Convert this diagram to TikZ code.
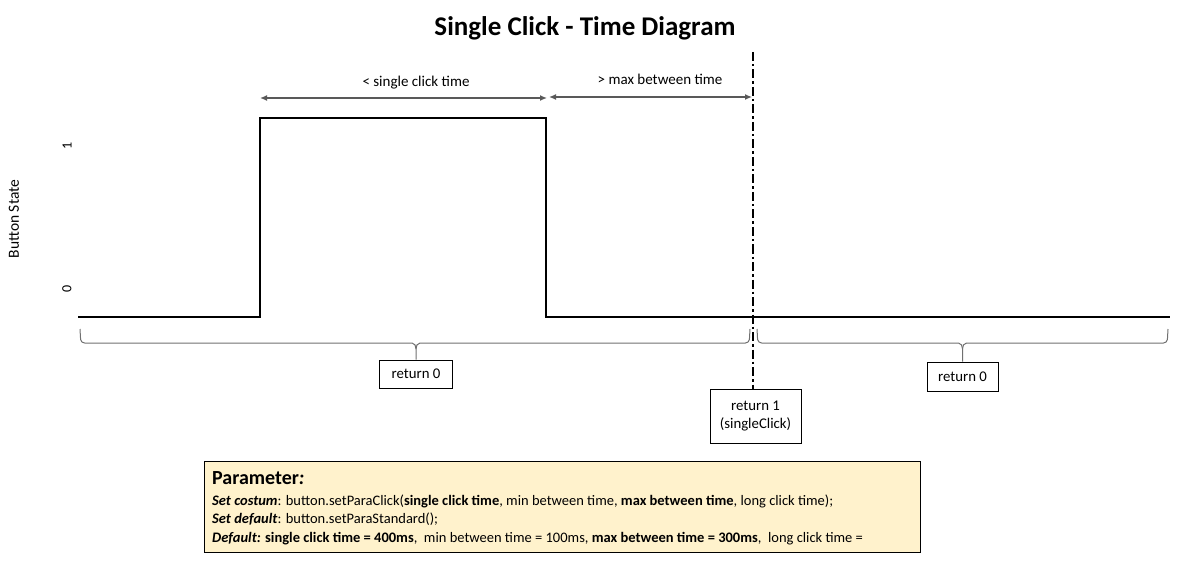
\documentclass[tikz,border=0pt]{standalone}
\usepackage{fontspec}
\setmainfont{Carlito}
\usetikzlibrary{arrows.meta}
\definecolor{paramfill}{HTML}{FFF2CC}
\definecolor{bracegray}{HTML}{707070}
\definecolor{arrowgray}{HTML}{595959}
\tikzset{
  signal/.style={line width=2pt},
  box/.style={draw, line width=0.8pt, fill=white, align=center, font=\fontsize{14.8}{18}\selectfont, inner sep=0pt},
  spanarrow/.style={arrowgray, line width=1.3pt, {Latex[length=7pt,width=6pt]}-{Latex[length=7pt,width=6pt]}},
  bracestyle/.style={bracegray, line width=1pt},
  label/.style={font=\fontsize{15}{18}\selectfont},
  dashdot/.style={line width=2.2pt, dash pattern=on 9pt off 3pt on 2.5pt off 3pt},
  ptext/.style={anchor=base west, font=\fontsize{14.5}{17}\selectfont, inner sep=0pt}
}
\begin{document}
\begin{tikzpicture}[x=1pt,y=-1pt]
\useasboundingbox (0,0) rectangle (1182,561);
% title
\node[font=\bfseries\fontsize{27}{32}\selectfont] (title) at (585,28.5) {Single Click - Time Diagram};
% axis labels
\node[rotate=90, font=\fontsize{15.5}{18}\selectfont] (ylab) at (14,219) {Button State};
\node[rotate=90, font=\fontsize{14}{17}\selectfont] (one) at (67,146) {1};
\node[rotate=90, font=\fontsize{14}{17}\selectfont] (zero) at (67,289) {0};
% signal
\draw[signal] (78,317) -- (260,317) -- (260,118) -- (546,118) -- (546,317) -- (1170,317);
% span arrows
\coordinate (a1) at (260,98);
\coordinate (a2) at (547,98);
\coordinate (a3) at (549,97);
\coordinate (a4) at (752,97);
\draw[spanarrow] (a1) -- (a2);
\draw[spanarrow] (a3) -- (a4);
\node[label] (l1) at (416,83) {< single click time};
\node[label] (l2) at (660,79) {> max between time};
% boxes
\node[box, minimum width=73pt, minimum height=28pt] (r0a) at (416,374) {return 0};
\node[box, minimum width=71pt, minimum height=29pt] (r0b) at (962.5,376.5) {return 0};
\node[box, minimum width=91pt, minimum height=54pt] (r1) at (755.5,416) {return 1\\(singleClick)};
% dash-dot line
\coordinate (dtop) at (753,52);
\draw[dashdot] (dtop) -- (dtop |- r1.north);
% braces
\coordinate (b1s) at (80,329);
\coordinate (b1e) at (750,329);
\coordinate (b2s) at (757,329);
\coordinate (b2e) at (1168,329);
\draw[bracestyle] (b1s) -- ++(0.6,10.5) to[out=-80,in=180] ++(4,3.5) -- (412,343) to[out=0,in=90] (r0a.north |- 0,349) -- (r0a.north);
\draw[bracestyle] (r0a.north |- 0,349) to[out=90,in=180] (420,343) -- (745.4,343) to[out=0,in=-100] (749.4,339.5) -- (b1e);
\draw[bracestyle] (b2s) -- ++(0.6,10.5) to[out=-80,in=180] ++(4,3.5) -- (958.5,343) to[out=0,in=90] (r0b.north |- 0,349) -- (r0b.north);
\draw[bracestyle] (r0b.north |- 0,349) to[out=90,in=180] (966.5,343) -- (1163.4,343) to[out=0,in=-100] (1167.4,339.5) -- (b2e);
% parameter box
\node[draw, line width=0.9pt, fill=paramfill, minimum width=716pt, minimum height=91pt, inner sep=0pt] (param) at (562,506.5) {};
\node[ptext, font=\bfseries\fontsize{20}{24}\selectfont] (ph) at (212,484) {Parameter\textit{:}};
\node[ptext] (p1) at (212,505) {\textbf{\textit{Set costum}}: button.setParaClick(\textbf{single click time}, min between time, \textbf{max between time}, long click time);};
\node[ptext] (p2) at (212,523.5) {\textbf{\textit{Set default}}: button.setParaStandard();};
\node[ptext] (p3) at (212,542) {\textbf{\textit{Default:}} \textbf{single click time = 400ms},\ \ min between time = 100ms, \textbf{max between time = 300ms},\ \ long click time =};
\end{tikzpicture}
\end{document}
